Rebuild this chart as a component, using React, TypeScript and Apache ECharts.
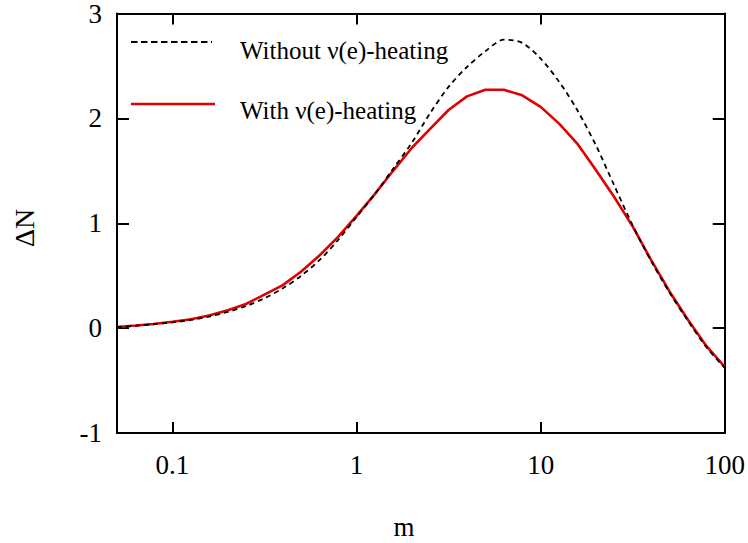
import React, { useEffect, useRef } from "react";
import * as echarts from "echarts";

const massValues = [
  0.05, 0.063, 0.079, 0.1, 0.126, 0.158, 0.2, 0.251, 0.316, 0.398, 0.501, 0.631, 0.794,
  1, 1.26, 1.58, 2, 2.51, 3.16, 3.98, 5.01, 6.31, 7.94, 10, 12.6, 15.8, 20, 25.1, 31.6,
  39.8, 50.1, 63.1, 79.4, 100,
];

const withHeating = [
  0.01, 0.025, 0.04, 0.06, 0.085, 0.12, 0.17, 0.23, 0.32, 0.41, 0.54, 0.695, 0.87,
  1.07, 1.28, 1.5, 1.72, 1.9, 2.08, 2.21, 2.273, 2.273, 2.22, 2.11, 1.95, 1.76, 1.505,
  1.25, 0.97, 0.65, 0.35, 0.08, -0.17, -0.37,
];

const withoutHeating = [
  0.01, 0.022, 0.037, 0.055, 0.078, 0.11, 0.155, 0.21, 0.285, 0.38, 0.5, 0.65, 0.84,
  1.06, 1.28, 1.52, 1.77, 2.05, 2.3, 2.49, 2.64, 2.75, 2.72, 2.57, 2.35, 2.08, 1.74,
  1.36, 0.98, 0.64, 0.34, 0.07, -0.18, -0.38,
];

const xTickValues = [0.1, 1, 10, 100];
const xTickLabels = ["0.1", "1", "10", "100"];
const yTickLabels = ["-1", "0", "1", "2", "3"];

const seriesNames = ["Without \u03bd(e)-heating", "With \u03bd(e)-heating"];
const xAxisTitle = "m";
const yAxisTitle = "\u0394N";

const FONT = "'Liberation Serif', 'DejaVu Serif', serif";

export default function App() {
  const ref = useRef<HTMLDivElement>(null);

  useEffect(() => {
    if (!ref.current) return;
    const chart = echarts.init(ref.current, null, { renderer: "svg" });

    const xFormatter = (v: number) => {
      for (let i = 0; i < xTickValues.length; i++) {
        if (Math.abs(Math.log10(v) - Math.log10(xTickValues[i])) < 1e-6) return xTickLabels[i];
      }
      return "";
    };
    const yFormatter = (v: number) => {
      const idx = Math.round(v) + 1;
      if (Math.abs(v - Math.round(v)) < 1e-6 && idx >= 0 && idx < yTickLabels.length) return yTickLabels[idx];
      return "";
    };

    const axisLine = { show: true, onZero: false, lineStyle: { color: "#000", width: 2 } };

    const withData = massValues.map((m, i) => [m, withHeating[i]]);
    const withoutData = massValues.map((m, i) => [m, withoutHeating[i]]);

    chart.setOption({
      animation: false,
      backgroundColor: "#fff",
      grid: { left: 117, right: 23, top: 13, bottom: 110, containLabel: false },
      xAxis: [
        {
          type: "log",
          logBase: 10,
          min: 0.05,
          max: 100,
          position: "bottom",
          axisLine,
          axisTick: { show: true, inside: true, length: 11, lineStyle: { color: "#000", width: 2 } },
          minorTick: { show: false },
          splitLine: { show: false },
          axisLabel: {
            show: true,
            formatter: xFormatter,
            color: "#000",
            fontFamily: FONT,
            fontSize: 27,
            margin: 18,
            showMinLabel: false,
          },
        },
        {
          type: "log",
          logBase: 10,
          min: 0.05,
          max: 100,
          position: "top",
          axisLine,
          axisTick: { show: true, inside: true, length: 11, lineStyle: { color: "#000", width: 2 } },
          splitLine: { show: false },
          axisLabel: { show: false },
        },
      ],
      yAxis: [
        {
          type: "value",
          min: -1,
          max: 3,
          interval: 1,
          position: "left",
          axisLine,
          axisTick: { show: true, inside: true, length: 12, lineStyle: { color: "#000", width: 2 } },
          splitLine: { show: false },
          axisLabel: {
            formatter: yFormatter,
            color: "#000",
            fontFamily: FONT,
            fontSize: 27,
            margin: 15,
          },
        },
        {
          type: "value",
          min: -1,
          max: 3,
          interval: 1,
          position: "right",
          axisLine,
          axisTick: { show: true, inside: true, length: 12, lineStyle: { color: "#000", width: 2 } },
          splitLine: { show: false },
          axisLabel: { show: false },
        },
      ],
      series: [
        {
          name: seriesNames[1],
          type: "line",
          xAxisIndex: 0,
          yAxisIndex: 0,
          data: withData,
          symbol: "none",
          smooth: false,
          lineStyle: { color: "#e00000", width: 2.6 },
          z: 2,
        },
        {
          name: seriesNames[0],
          type: "line",
          xAxisIndex: 0,
          yAxisIndex: 0,
          data: withoutData,
          symbol: "none",
          smooth: 0.3,
          lineStyle: { color: "#000", width: 1.8, type: [5, 4] },
          z: 3,
        },
      ],
      graphic: [
        {
          type: "line",
          shape: { x1: 131, y1: 42, x2: 212, y2: 42 },
          style: { stroke: "#000", lineWidth: 2, lineDash: [6.5, 3.5] },
        },
        {
          type: "text",
          x: 240,
          y: 50,
          style: {
            text: seriesNames[0],
            fill: "#000",
            font: `25px ${FONT}`,
            verticalAlign: "middle",
            align: "left",
          },
        },
        {
          type: "line",
          shape: { x1: 131, y1: 104, x2: 215, y2: 104 },
          style: { stroke: "#e00000", lineWidth: 2.6 },
        },
        {
          type: "text",
          x: 240,
          y: 110,
          style: {
            text: seriesNames[1],
            fill: "#000",
            font: `25px ${FONT}`,
            verticalAlign: "middle",
            align: "left",
          },
        },
        {
          type: "text",
          x: 24,
          y: 228,
          rotation: Math.PI / 2,
          style: {
            text: yAxisTitle,
            fill: "#000",
            font: `28px ${FONT}`,
            verticalAlign: "middle",
            align: "center",
          },
        },
        {
          type: "text",
          x: 404,
          y: 527,
          style: {
            text: xAxisTitle,
            fill: "#000",
            font: `27px ${FONT}`,
            verticalAlign: "middle",
            align: "center",
          },
        },
      ],
    });

    return () => chart.dispose();
  }, []);

  return (
    <div
      ref={ref}
      style={{ position: "absolute", left: 0, top: 0, width: 748, height: 543 }}
    />
  );
}
